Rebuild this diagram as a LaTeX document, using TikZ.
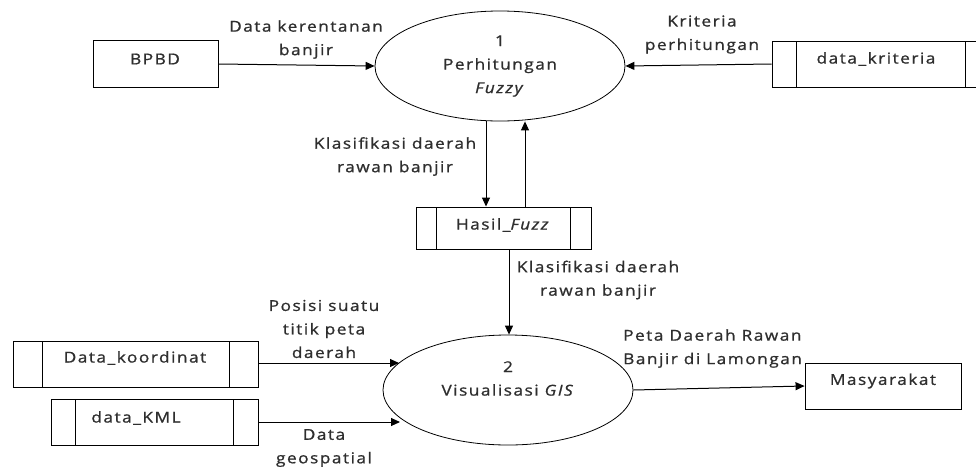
\documentclass[tikz,border=0pt]{standalone}
\usepackage{fontspec}
\setmainfont[FakeStretch=1.15,LetterSpace=10,FakeBold=1]{Open Sans}
\usetikzlibrary{shapes.geometric,arrows.meta}
\begin{document}
\begin{tikzpicture}[x=1pt,y=-1pt,
  every node/.style={font=\fontsize{15}{23.5}\selectfont, text=black!82},
  box/.style={draw, line width=0.9pt, inner sep=0pt},
  store/.style 2 args={box, path picture={
      \draw[line width=0.9pt] ([xshift=#1]path picture bounding box.north west) -- ([xshift=#1]path picture bounding box.south west);
      \draw[line width=0.9pt] ([xshift=-#2]path picture bounding box.north east) -- ([xshift=-#2]path picture bounding box.south east);}},
  proc/.style={ellipse, draw, line width=0.8pt, minimum width=250pt, minimum height=110pt, inner sep=0pt},
  lbl/.style={align=center, inner sep=0pt},
  flow/.style={line width=1pt, -{Triangle[length=9pt,width=8pt]}}
]
\clip (0,0) rectangle (976,466);
\useasboundingbox (0,0) rectangle (976,466);

% processes
\node[proc] (p1) at (500,66) {};
\node[lbl] (p1t) at (500,66) {1\\Perhitungan\\\textit{Fuzzy}};
\node[proc] (p2) at (508,390) {};
\node[lbl] (p2t) at (508,378.5) {2\\Visualisasi \textit{GIS}};

% external entities
\node[box, minimum width=125pt, minimum height=47pt] (bpbd) at (155.5,64) {};
\node[lbl] (bpbdt) at (155,59) {BPBD};
\node[box, minimum width=156pt, minimum height=46pt] (mas) at (883,386) {};
\node[lbl] (mast) at (883,381) {Masyarakat};

% data stores
\node[store={24pt}{21pt}, minimum width=214pt, minimum height=46pt] (krit) at (879,64) {};
\node[lbl] (kritt) at (876,59) {data\_kriteria};
\node[store={20pt}{21pt}, minimum width=175pt, minimum height=42pt] (hasil) at (503.5,228) {};
\node[lbl] (hasilt) at (503,225) {Hasil\_\textit{Fuzz}};
\node[store={29pt}{29pt}, minimum width=245pt, minimum height=46pt] (koord) at (135.5,364) {};
\node[lbl] (koordt) at (135,358) {Data\_koordinat};
\node[store={24pt}{25pt}, minimum width=207pt, minimum height=46pt] (kml) at (154.5,422) {};
\node[lbl] (kmlt) at (136,418) {data\_KML};

% flows
\draw[flow] (bpbd.east) -- (p1.west);
\node[lbl] (l1) at (306,39.5) {Data kerentanan\\banjir};
\draw[flow] (krit.west) -- (p1.east);
\node[lbl] (l2) at (702,34.5) {Kriteria\\perhitungan};
\draw[flow] (p1.south -| 486,0) -- (hasil.north -| 486,0);
\draw[flow] (hasil.north -| 525,0) -- (p1.south -| 525,0);
\node[lbl] (l3) at (395,156.5) {Klasifikasi daerah\\rawan banjir};
\draw[flow] (hasil.south -| 509,0) -- (p2.north -| 509,0);
\node[lbl] (l4) at (598,280) {Klasifikasi daerah\\rawan banjir};
\coordinate (k1) at (399,363);
\draw[flow] (koord.east |- k1) -- (k1);
\node[lbl] (l5) at (324,329) {Posisi suatu\\titik peta\\daerah};
\coordinate (k2) at (400,422);
\draw[flow] (kml.east |- k2) -- (k2);
\node[lbl] (l6) at (324,448) {Data\\geospatial};
\draw[flow] (p2.east) -- (mas.west);
\node[lbl, align=left, anchor=west] (l7) at (623,348.5) {Peta Daerah Rawan\\Banjir di Lamongan};
\end{tikzpicture}
\end{document}
